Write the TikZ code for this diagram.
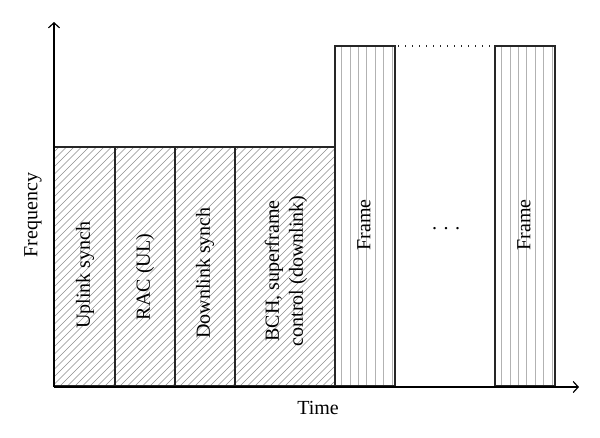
\documentclass[tikz,border=0pt]{standalone}
\usepackage{fontspec}
\setmainfont{Liberation Serif}
\usetikzlibrary{arrows.meta}
\begin{document}
\begin{tikzpicture}[x=1pt,y=-1pt,
  box/.style={draw=black!85,line width=1.3pt},
  hatch/.style={draw=black!45,line width=0.6pt},
  vline/.style={draw=black!30,line width=0.8pt},
  axis/.style={draw=black,line width=1.2pt,-{Straight Barb[length=5pt,width=11pt,line width=1.2pt]}},
  lbl/.style={font=\fontsize{20}{24}\selectfont,align=center,inner sep=0pt},
  vlbl/.style={lbl,rotate=90}]
\useasboundingbox (0,0) rectangle (600,437);
% hatching of the four superframe boxes
\begin{scope}
  \clip (54,147) rectangle (335,386);
  \foreach \i in {-300,-292.5,...,340} {
    \draw[hatch] (\i,386) -- ++(300,-300);
  }
\end{scope}
% vertical lines in frames
\foreach \k in {0,...,6} {
  \draw[vline] (341.5+8.4*\k,46) -- (341.5+8.4*\k,386);
  \draw[vline] (501.5+8.4*\k,46) -- (501.5+8.4*\k,386);
}
% boxes
\draw[box] (54,147) rectangle (115,386);
\draw[box] (115,147) rectangle (175,386);
\draw[box] (175,147) rectangle (235,386);
\draw[box] (235,147) rectangle (335,386);
\draw[box] (335,46) rectangle (395,386);
\draw[box] (495,46) rectangle (555,386);
\coordinate (d1) at (395,46);
\coordinate (d2) at (495,46);
\draw[black!85,line width=1.4pt,dash pattern=on 1.4pt off 5.6pt,dash phase=-3pt] (d1) -- (d2);
% axes
\coordinate (o) at (54,387);
\coordinate (ytop) at (54,22);
\coordinate (xend) at (579,387);
\draw[axis] (o) -- (ytop);
\draw[axis] (o) -- (xend);
% labels
\node[vlbl] (t1) at (85,275) {Uplink synch};
\node[vlbl] (t2) at (145,277) {RAC (UL)};
\node[vlbl] (t3) at (205,273) {Downlink synch};
\node[vlbl] (t4) at (286,271) {BCH, superframe\\control (downlink)};
\node[vlbl] (f1) at (364,225) {Frame};
\node[vlbl] (f2) at (524,225) {Frame};
\node[lbl,anchor=base] (dots) at (446,229) {.\hspace{6.5pt}.\hspace{6.5pt}.};
\node[vlbl] (freq) at (33,215) {Frequency};
\node[lbl] (time) at (318,408) {Time};
\end{tikzpicture}
\end{document}
